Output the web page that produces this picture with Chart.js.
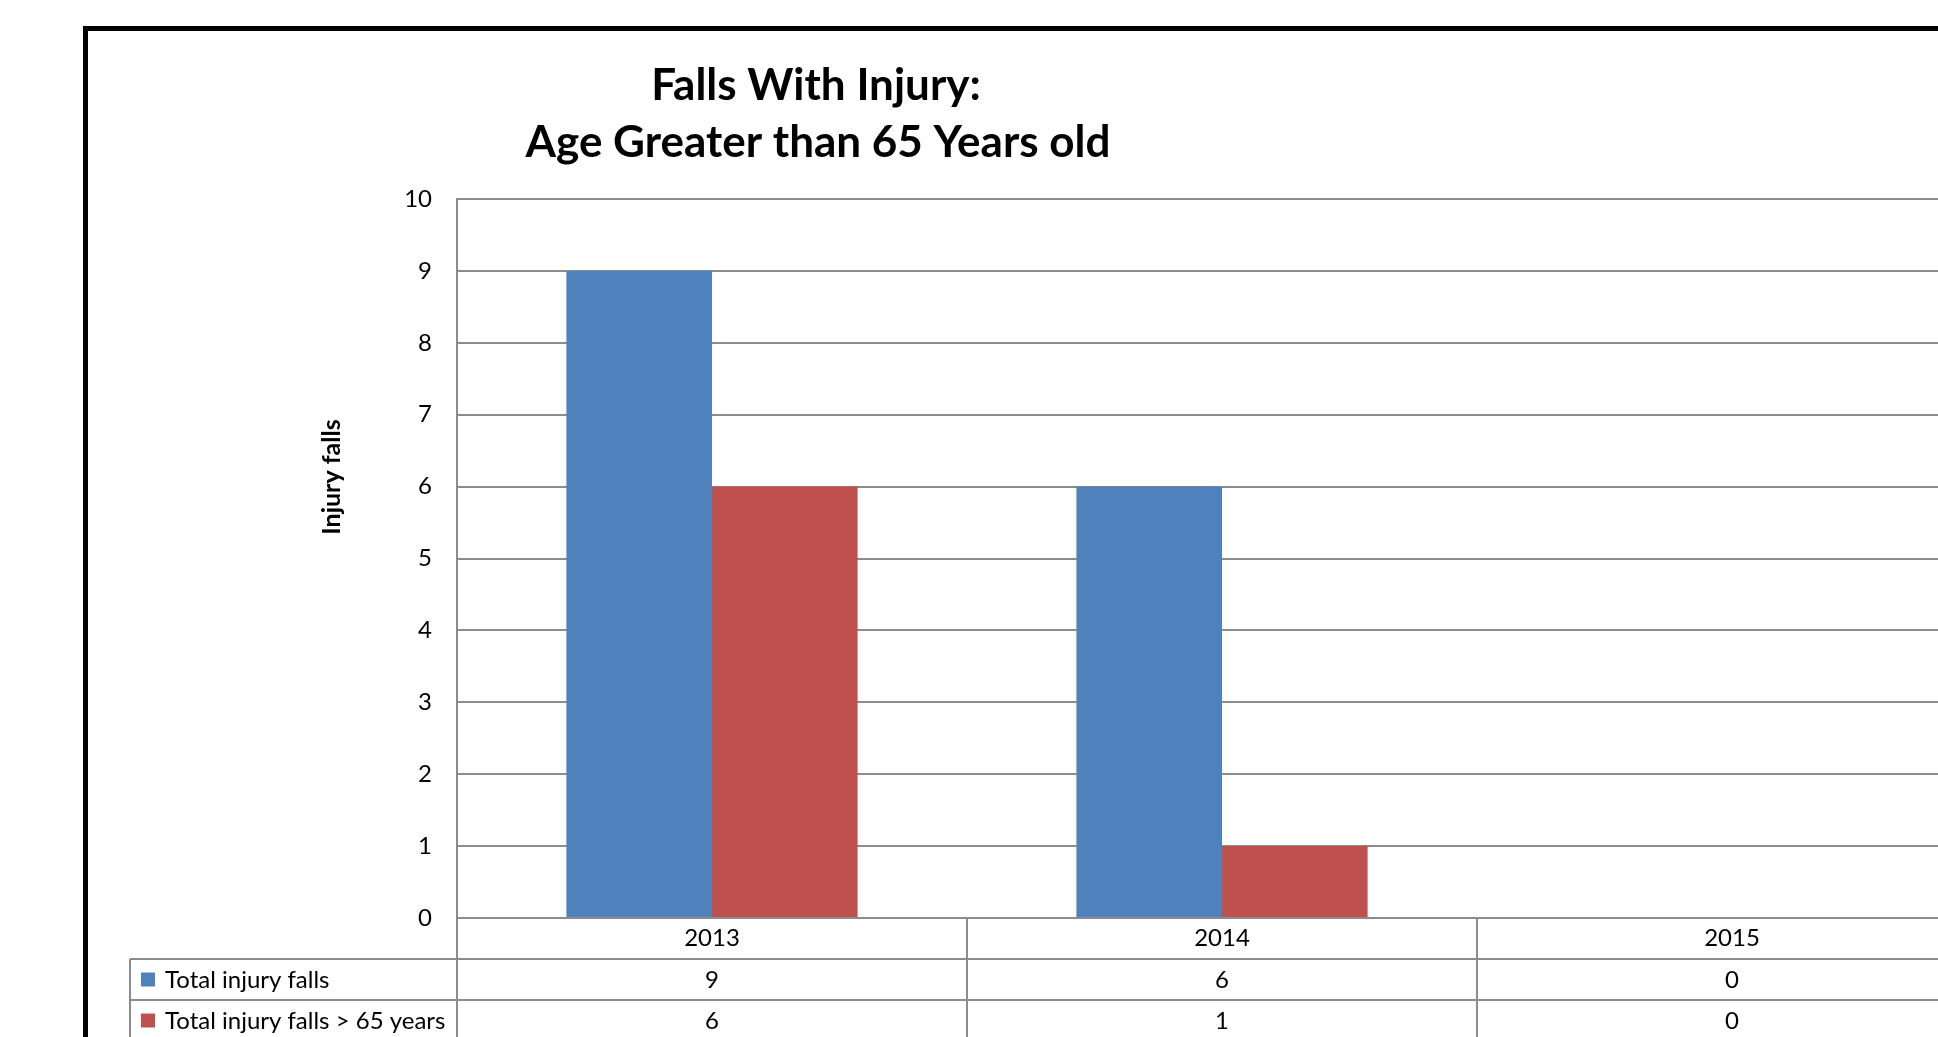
<!DOCTYPE html>
<html>
<head>
<meta charset="utf-8">
<script src="https://cdn.jsdelivr.net/npm/chart.js@4.4.1/dist/chart.umd.min.js"></script>
<style>
    body { margin: 0; overflow: hidden; background: #fff; }
    canvas { display: block; }
</style>
</head>
<body>
<canvas id="chart" width="2000" height="1100"></canvas>
<script>
const years = ['2013', '2014', '2015'];
const totalFalls = [9, 6, 0];
const over65Falls = [6, 1, 0];
const seriesNames = ['Total injury falls', 'Total injury falls > 65 years'];
const seriesColors = ['#4F81BD', '#C0504D'];
const titleLines = ['Falls With Injury:', 'Age Greater than 65 Years old'];
const yTitle = 'Injury falls';

Chart.defaults.font.family = "'Lato'";
Chart.defaults.font.size = 24;
Chart.defaults.color = '#000';
const lineGray = '#8c8c8c';
const rowHeight = 41;

// black frame + title + rotated axis title
const decorations = {
    id: 'decorations',
    beforeDraw: function (chart) {
        const ctx = chart.ctx;
        ctx.save();
        ctx.strokeStyle = '#000';
        ctx.lineWidth = 5;
        ctx.strokeRect(85.5, 28.5, 4000, 4000);
        ctx.restore();
    },
    afterDraw: function (chart) {
        const ctx = chart.ctx;
        const area = chart.chartArea;
        ctx.save();
        ctx.fillStyle = '#000';
        ctx.textAlign = 'center';
        ctx.textBaseline = 'alphabetic';
        ctx.font = "bold 44px 'Lato'";
        ctx.fillText(titleLines[0], 816, 100);
        ctx.fillText(titleLines[1], 818, 157);

        ctx.font = "bold 25px 'Lato'";
        ctx.translate(332, area.top + 278);
        ctx.rotate(-Math.PI / 2);
        ctx.textBaseline = 'middle';
        ctx.fillText(yTitle, 0, 0);
        ctx.restore();
    }
};

// data table under the x axis
const dataTable = {
    id: 'dataTable',
    afterDraw: function (chart) {
        const ctx = chart.ctx;
        const xs = chart.scales.x;
        const area = chart.chartArea;
        const colWidth = (xs.right - xs.left) / years.length;
        const tableLeft = 130;
        const row1 = area.bottom + rowHeight;
        const bottom = chart.height;
        ctx.save();
        ctx.strokeStyle = lineGray;
        ctx.lineWidth = 2;
        ctx.beginPath();
        for (let i = 0; i <= years.length; i++) {
            const x = Math.round(xs.left + i * colWidth);
            ctx.moveTo(x, area.bottom);
            ctx.lineTo(x, bottom);
        }
        ctx.moveTo(tableLeft, row1);
        ctx.lineTo(tableLeft, bottom);
        for (let r = 0; r <= chart.data.datasets.length; r++) {
            const y = row1 + r * rowHeight;
            ctx.moveTo(tableLeft, y);
            ctx.lineTo(xs.right, y);
        }
        ctx.stroke();

        ctx.fillStyle = '#000';
        ctx.font = "24px 'Lato'";
        ctx.textBaseline = 'middle';
        chart.data.datasets.forEach((ds, r) => {
            const cy = row1 + r * rowHeight + rowHeight / 2;
            ctx.fillStyle = ds.backgroundColor;
            ctx.fillRect(141, cy - 7, 14, 14);
            ctx.fillStyle = '#000';
            ctx.textAlign = 'left';
            ctx.fillText(ds.label, 165, cy + 1);
            ctx.textAlign = 'center';
            ds.data.forEach((v, i) => {
                ctx.fillText(String(v), xs.getPixelForValue(i), cy + 1);
            });
        });
        ctx.restore();
    }
};

const ctx = document.querySelector('#chart').getContext('2d');
const chart = new Chart(ctx, {
    type: 'bar',
    data: {
        labels: years,
        datasets: [{
            label: seriesNames[0],
            data: totalFalls,
            backgroundColor: seriesColors[0],
        }, {
            label: seriesNames[1],
            data: over65Falls,
            backgroundColor: seriesColors[1],
        }],
    },
    plugins: [decorations, dataTable],
    options: {
        responsive: false,
        animation: false,
        devicePixelRatio: 1,
        categoryPercentage: 0.571,
        barPercentage: 1,
        layout: {
            padding: { top: 199, left: 357, right: 13, bottom: 1100 - 918 - rowHeight }
        },
        plugins: {
            legend: { display: false },
            title: { display: false },
            tooltip: { enabled: false }
        },
        scales: {
            x: {
                grid: { display: false, drawTicks: false },
                border: { color: lineGray, width: 2 },
                ticks: { padding: 6, font: { size: 24 } },
                afterFit: function (scale) { scale.height = rowHeight; }
            },
            y: {
                min: 0,
                max: 10,
                grid: { color: lineGray, lineWidth: 2, drawTicks: false },
                border: { color: lineGray, width: 2 },
                ticks: { stepSize: 1, padding: 25, font: { size: 24 } },
                afterFit: function (scale) { scale.width = 100; }
            }
        }
    }
});
</script>
</body>
</html>
